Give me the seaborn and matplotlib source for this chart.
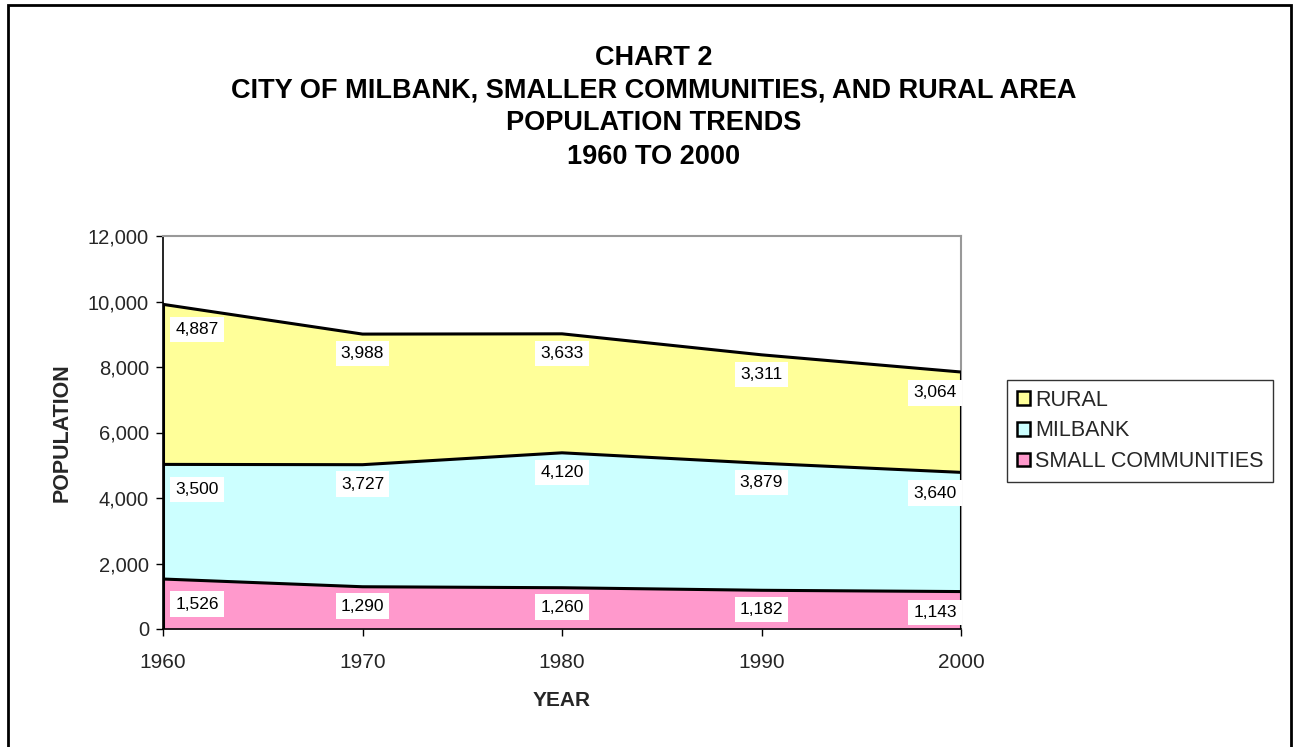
import matplotlib
matplotlib.use("Agg")
import matplotlib.pyplot as plt
import seaborn as sns
import numpy as np
import pandas as pd
from matplotlib.patches import Rectangle, Patch

years = [1960, 1970, 1980, 1990, 2000]
small_communities = [1526, 1290, 1260, 1182, 1143]
milbank = [3500, 3727, 4120, 3879, 3640]
rural = [4887, 3988, 3633, 3311, 3064]
series_names = ["SMALL COMMUNITIES", "MILBANK", "RURAL"]
series_colors = ["#FF99CC", "#CCFFFF", "#FFFF99"]
title_lines = ["CHART 2",
               "CITY OF MILBANK, SMALLER COMMUNITIES, AND RURAL AREA",
               "POPULATION TRENDS",
               "1960 TO 2000"]
y_ticks = [0, 2000, 4000, 6000, 8000, 10000, 12000]

sns.set_theme(style="white")
plt.rcParams['font.family'] = ['Liberation Sans', 'DejaVu Sans']

fig = plt.figure(figsize=(12.94, 7.47), dpi=100)
ax = fig.add_axes([163/1294, 1-629/747, (961-163)/1294, (629-236)/747])

x = np.array(years)
layers = [np.array(small_communities), np.array(milbank), np.array(rural)]
bottom = np.zeros(len(years))
tops = []
for vals, name, col in zip(layers, series_names, series_colors):
    top = bottom + vals
    ax.fill_between(x, bottom, top, color=col, linewidth=0, zorder=1)
    df = pd.DataFrame({"year": x, "top": top})
    sns.lineplot(data=df, x="year", y="top", color="black", linewidth=2.2,
                 ax=ax, zorder=3, legend=False)
    tops.append(top)
    bottom = top

# vertical edges at the ends
ax.vlines([x[0], x[-1]], 0, [bottom[0], bottom[-1]], color="black", linewidth=2.2, zorder=3)

# data labels
for vals, top in zip(layers, tops):
    for i, (xi, v, t) in enumerate(zip(x, vals, top)):
        if i == 0:
            ha, dx, dy = "left", 9, -18
        elif i == len(x) - 1:
            ha, dx, dy = "right", -3, -15
        else:
            ha, dx, dy = "center", 0, -14
        ax.annotate(f"{v:,}", xy=(xi, t), xytext=(dx, dy), textcoords="offset points",
                    ha=ha, va="center", fontsize=12.5, color="black", zorder=5,
                    bbox=dict(boxstyle="square,pad=0.3", facecolor="white", edgecolor="none"))

ax.set_xlim(1960, 2000)
ax.set_ylim(0, 12000)
ax.set_xticks(years)
ax.set_xticklabels([str(y) for y in years], fontsize=15)
ax.set_yticks(y_ticks)
ax.set_yticklabels([f"{t:,}" for t in y_ticks], fontsize=14.5)
ax.tick_params(axis="both", which="both", direction="out", length=5, width=1, color="black",
               bottom=True, left=True)
ax.tick_params(axis="x", pad=12)
ax.tick_params(axis="y", pad=5)
for side in ["top", "right"]:
    ax.spines[side].set_color("#999999")
    ax.spines[side].set_linewidth(1.5)
for side in ["left", "bottom"]:
    ax.spines[side].set_color("black")
    ax.spines[side].set_linewidth(1.2)
ax.set_xlabel("YEAR", fontsize=15, fontweight="bold", labelpad=14)
ax.set_ylabel("POPULATION", fontsize=15.5, fontweight="bold", labelpad=11)

# title
title_y = [58, 90, 123, 157]
for line, yy in zip(title_lines, title_y):
    fig.text(654/1294, 1 - yy/747, line, ha="center", va="center",
             fontsize=19.5, fontweight="bold", color="black")

# legend
handles = [Patch(facecolor=c, edgecolor="black", linewidth=1.8) for c in series_colors[::-1]]
leg = fig.legend(handles, series_names[::-1], loc="upper left",
                 bbox_to_anchor=(1007/1294, 1 - 380/747), fontsize=15.5,
                 frameon=True, fancybox=False, handlelength=0.6, handleheight=0.6,
                 handletextpad=0.25, labelspacing=0.45, borderpad=0.45, borderaxespad=0)
leg.get_frame().set_edgecolor("black")
leg.get_frame().set_linewidth(1)

# outer figure border
fig.patches.append(Rectangle((8/1294, -0.01), (1291-8)/1294, 1 - 5/747 + 0.01,
                             transform=fig.transFigure, fill=False, edgecolor="black",
                             linewidth=2, zorder=10))

fig.savefig("out.png", dpi=100)
